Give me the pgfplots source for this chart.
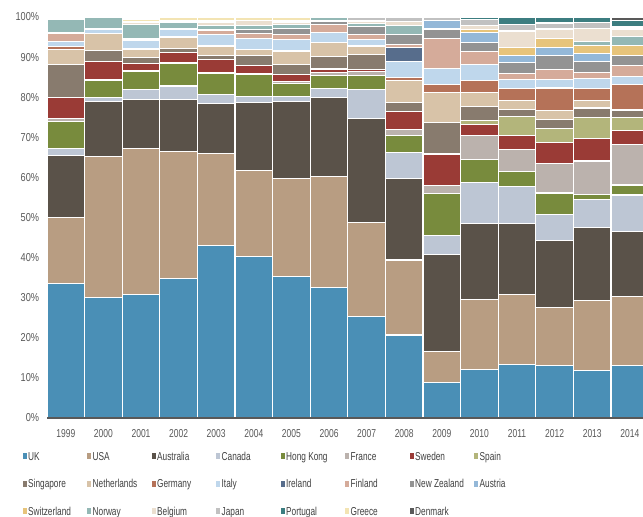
\documentclass[border=0pt]{standalone}
\usepackage{fontspec}
\setmainfont{Liberation Sans}
\usepackage{graphicx}
\usepackage{pgfplots}
\usepackage{pgfplotstable}
\pgfplotsset{compat=1.18}

\definecolor{cUK}{HTML}{4A8FB6}
\definecolor{cUSA}{HTML}{B89D82}
\definecolor{cAus}{HTML}{5A5249}
\definecolor{cCan}{HTML}{BDC6D4}
\definecolor{cHK}{HTML}{788B3D}
\definecolor{cFra}{HTML}{BBB2AD}
\definecolor{cSwe}{HTML}{9A3B36}
\definecolor{cSpa}{HTML}{B3B57B}
\definecolor{cSin}{HTML}{887B6E}
\definecolor{cNet}{HTML}{D8C3A8}
\definecolor{cGer}{HTML}{B57258}
\definecolor{cIta}{HTML}{BFD7EC}
\definecolor{cIre}{HTML}{576D8C}
\definecolor{cFin}{HTML}{D5AB9A}
\definecolor{cNZ}{HTML}{939393}
\definecolor{cAst}{HTML}{94B8D8}
\definecolor{cSwi}{HTML}{E7C47B}
\definecolor{cNor}{HTML}{94B8B5}
\definecolor{cBel}{HTML}{EBDFD0}
\definecolor{cJap}{HTML}{C1C1C1}
\definecolor{cPor}{HTML}{3C7D80}
\definecolor{cGre}{HTML}{F3E4B3}
\definecolor{cDen}{HTML}{595959}
\definecolor{txt}{HTML}{404040}
\definecolor{tck}{HTML}{595959}

\pgfplotstableread{
x  UK   USA  Aus  Can  HK   Fra  Swe  Spa  Sin  Net  Ger  Ita  Ire  Fin  NZ   Ast  Swi  Nor  Bel  Jap  Por  Gre  Den
0  33.6 16.4 15.4 1.9  6.6  0.7  5.3  0    8.3  3.6  0.8  1.2  0    2.1  0.1  0    0    3.3  0    0.3  0    0    0.4
1  30.1 35.1 13.7 1.1  4.2  0.2  4.4  0    2.9  4.1  0    1.2  0    0.2  0    0    0    2.6  0    0    0    0    0.2
2  30.8 36.5 12.2 2.4  4.4  0.3  1.9  0    1.3  2.0  0.3  2.1  0    0.2  0.2  0    0    3.5  0.5  0.3  0    0.6  0.5
3  34.7 31.7 13.0 3.4  5.7  0.2  2.4  0    1.1  2.7  0.2  1.9  0    0.1  0    0    0    1.5  0.4  0.2  0    0.6  0.2
4  43.0 23.0 12.5 2.2  5.3  0.2  3.1  0    1.1  2.2  0.3  2.7  0    1.0  0.2  0    0    1.0  0.8  0.4  0    0.8  0.2
5  40.2 21.6 16.9 1.5  5.4  0.2  2.1  0    2.5  1.5  0.1  2.7  0    1.2  1.0  0    0    0.9  1.3  0.1  0    0.6  0.2
6  35.2 24.6 19.1 1.3  3.3  0.5  1.6  0    2.6  3.3  0.2  2.6  0    1.3  1.5  0    0    1.1  0.5  0.3  0    0.8  0.2
7  32.6 27.6 19.7 2.3  3.2  0.7  0.9  0.2  2.9  3.5  0.1  2.4  0    2.1  0.8  0    0    0.8  0    0.1  0    0    0.1
8  25.4 23.3 26.0 7.3  3.5  1.0  0.3  0.2  3.7  1.9  0.2  1.6  0    1.3  1.9  0    0    0.8  0.6  0.8  0    0    0.2
9  20.7 18.7 20.4 6.5  4.1  1.5  4.5  0.1  2.2  5.5  0.7  4.1  3.3  0.9  2.4  0    0    2.3  1.0  1.1  0    0    0
10 8.8  7.8  24.2 4.7  10.5 2.0  7.8  0.1  7.9  7.4  2.0  3.9  0    7.5  2.4  2.2  0    0    0    0.8  0    0    0
11 12.2 17.3 19.1 10.2 5.6  6.1  2.7  0.9  3.6  3.5  2.9  4.1  0    3.2  2.3  2.4  0.7  0    1.0  1.5  0.7  0    0
12 13.4 17.5 17.5 9.4  3.7  5.4  3.5  4.7  1.9  2.1  3.0  2.3  0    1.4  2.8  1.8  2.1  0    4.0  1.7  1.8  0    0
13 13.0 14.6 16.6 6.5  5.4  7.4  5.2  3.6  2.1  2.3  5.6  2.1  0    2.5  3.5  1.9  2.4  0    2.3  1.5  1.5  0    0
14 11.8 17.4 18.3 7.1  1.2  8.3  5.6  5.2  2.4  1.9  2.9  2.5  0    1.6  2.7  1.9  2.0  1.2  3.1  1.6  1.3  0    0
15 13.2 17.1 16.2 9.1  2.5  10.0 3.7  3.1  1.7  0.3  6.2  2.0  0    2.7  2.7  0    2.5  2.1  1.9  0.5  1.7  0    0.8
}\datatable

\newcommand{\lgd}[1]{\makebox[59bp][l]{\strut\scalebox{0.72}[1]{#1}}}
\newcommand{\sx}[1]{\scalebox{0.74}[1]{#1}}
\newcommand{\sy}[1]{\scalebox{0.8}[1]{#1}}

\begin{document}
\begin{tikzpicture}
\useasboundingbox (0bp,0bp) rectangle (643bp,517bp);
\begin{axis}[
  at={(47bp,99bp)}, anchor=south west,
  scale only axis, width=596bp, height=401bp,
  xmin=-0.5, xmax=15.35, ymin=0, ymax=100,
  ybar stacked, bar width=1,
  legend image code/.code={\path[#1, draw=none] (0bp,-3bp) rectangle (4bp,3bp);},
  axis on top,
  axis x line*=bottom, axis y line*=left,
  x axis line style={draw=tck, line width=1.3bp, -},
  y axis line style={draw=none},
  xtick={0,...,15},
  xticklabels={\sx{1999},\sx{2000},\sx{2001},\sx{2002},\sx{2003},\sx{2004},\sx{2005},\sx{2006},\sx{2007},\sx{2008},\sx{2009},\sx{2010},\sx{2011},\sx{2012},\sx{2013},\sx{2014}},
  ytick={0,10,...,100},
  yticklabels={\sy{0\%},\sy{10\%},\sy{20\%},\sy{30\%},\sy{40\%},\sy{50\%},\sy{60\%},\sy{70\%},\sy{80\%},\sy{90\%},\sy{100\%}},
  tick style={draw=none},
  tick label style={font=\fontsize{11.5bp}{13.8bp}\selectfont, text=tck},
  yticklabel style={inner sep=0pt, xshift=-7.7bp},
  xticklabel style={anchor=base, inner sep=0pt, yshift=-19bp},
  legend columns=8,
  legend style={at={(axis description cs:-0.0408,-0.081)}, anchor=north west,
    draw=none, fill=none, inner sep=0pt, outer sep=0pt, row sep=16.5bp,
    font=\fontsize{11.5bp}{13.8bp}\selectfont, text=txt,
    nodes={inner sep=0pt},
    /tikz/every odd column/.append style={column sep=1.5bp},
    /tikz/every even column/.append style={column sep=0bp}},
  every axis plot/.append style={draw=white, line width=1.1bp},
]
\addplot[fill=cUK] table[x=x,y=UK]{\datatable}; \addlegendentry{\lgd{UK}}
\addplot[fill=cUSA] table[x=x,y=USA]{\datatable}; \addlegendentry{\lgd{USA}}
\addplot[fill=cAus] table[x=x,y=Aus]{\datatable}; \addlegendentry{\lgd{Australia}}
\addplot[fill=cCan] table[x=x,y=Can]{\datatable}; \addlegendentry{\lgd{Canada}}
\addplot[fill=cHK] table[x=x,y=HK]{\datatable}; \addlegendentry{\lgd{Hong Kong}}
\addplot[fill=cFra] table[x=x,y=Fra]{\datatable}; \addlegendentry{\lgd{France}}
\addplot[fill=cSwe] table[x=x,y=Swe]{\datatable}; \addlegendentry{\lgd{Sweden}}
\addplot[fill=cSpa] table[x=x,y=Spa]{\datatable}; \addlegendentry{\lgd{Spain}}
\addplot[fill=cSin] table[x=x,y=Sin]{\datatable}; \addlegendentry{\lgd{Singapore}}
\addplot[fill=cNet] table[x=x,y=Net]{\datatable}; \addlegendentry{\lgd{Netherlands}}
\addplot[fill=cGer] table[x=x,y=Ger]{\datatable}; \addlegendentry{\lgd{Germany}}
\addplot[fill=cIta] table[x=x,y=Ita]{\datatable}; \addlegendentry{\lgd{Italy}}
\addplot[fill=cIre] table[x=x,y=Ire]{\datatable}; \addlegendentry{\lgd{Ireland}}
\addplot[fill=cFin] table[x=x,y=Fin]{\datatable}; \addlegendentry{\lgd{Finland}}
\addplot[fill=cNZ] table[x=x,y=NZ]{\datatable}; \addlegendentry{\lgd{New Zealand}}
\addplot[fill=cAst] table[x=x,y=Ast]{\datatable}; \addlegendentry{\lgd{Austria}}
\addplot[fill=cSwi] table[x=x,y=Swi]{\datatable}; \addlegendentry{\lgd{Switzerland}}
\addplot[fill=cNor] table[x=x,y=Nor]{\datatable}; \addlegendentry{\lgd{Norway}}
\addplot[fill=cBel] table[x=x,y=Bel]{\datatable}; \addlegendentry{\lgd{Belgium}}
\addplot[fill=cJap] table[x=x,y=Jap]{\datatable}; \addlegendentry{\lgd{Japan}}
\addplot[fill=cPor] table[x=x,y=Por]{\datatable}; \addlegendentry{\lgd{Portugal}}
\addplot[fill=cGre] table[x=x,y=Gre]{\datatable}; \addlegendentry{\lgd{Greece}}
\addplot[fill=cDen] table[x=x,y=Den]{\datatable}; \addlegendentry{\lgd{Denmark}}
\end{axis}
\end{tikzpicture}
\end{document}
